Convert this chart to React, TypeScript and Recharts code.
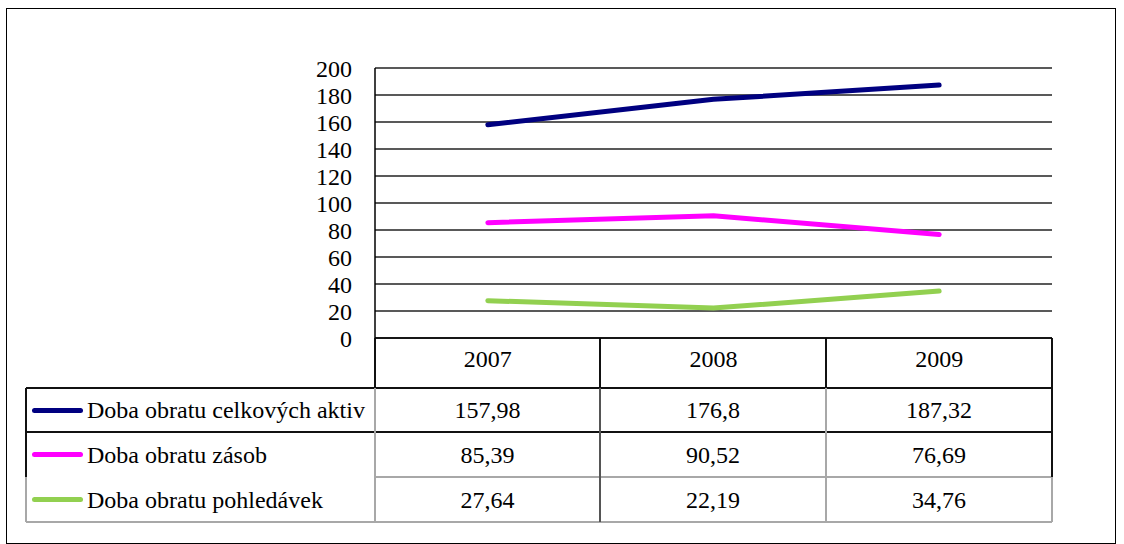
import { LineChart, Line, XAxis, YAxis, CartesianGrid } from "recharts";

const FONT = '"Liberation Serif", "DejaVu Serif", serif';
const FONT_SIZE = 24;

const years = ["2007", "2008", "2009"];
const aktiva = [157.98, 176.8, 187.32];
const zasoby = [85.39, 90.52, 76.69];
const pohledavky = [27.64, 22.19, 34.76];
const yTicks = [0, 20, 40, 60, 80, 100, 120, 140, 160, 180, 200];

const series = [
  { key: "aktiva", name: "Doba obratu celkových aktiv", color: "#000080", values: aktiva },
  { key: "zasoby", name: "Doba obratu zásob", color: "#FF00FF", values: zasoby },
  { key: "pohledavky", name: "Doba obratu pohledávek", color: "#92D050", values: pohledavky },
];

const data = years.map((year, i) => ({
  year,
  aktiva: aktiva[i],
  zasoby: zasoby[i],
  pohledavky: pohledavky[i],
}));

// layout (pixels on the page)
const W = 1124;
const H = 544;
const PLOT_LEFT = 375;
const PLOT_RIGHT = 1052;
const PLOT_TOP = 68;
const PLOT_BOTTOM = 338;
const Y_AXIS_W = 60;
const X_AXIS_H = 50;
const TABLE_LEFT = 26;
const colX = [PLOT_LEFT, 600, 826, PLOT_RIGHT];
const rowY = [PLOT_BOTTOM + X_AXIS_H, 432, 477, 522];

const DARK = "#111";
const GREY = "#a8a8a8";

function HLine({ x1, x2, y, color }: { x1: number; x2: number; y: number; color: string }) {
  return (
    <div
      style={{ position: "absolute", left: x1, top: y - 0.75, width: x2 - x1, height: 1.5, background: color }}
    />
  );
}

function VLine({ x, y1, y2, color }: { x: number; y1: number; y2: number; color: string }) {
  return (
    <div
      style={{ position: "absolute", left: x - 0.75, top: y1, width: 1.5, height: y2 - y1, background: color }}
    />
  );
}

const fmt = (v: number) => String(v).replace(".", ",");

const textStyle = {
  fontFamily: FONT,
  fontSize: FONT_SIZE,
  color: "#000",
  lineHeight: 1,
};

function DataTable() {
  const cells = [];
  series.forEach((s, r) => {
    const top = rowY[r];
    const h = rowY[r + 1] - rowY[r];
    cells.push(
      <div
        key={`legend-${s.key}`}
        style={{
          ...textStyle,
          position: "absolute",
          left: TABLE_LEFT + 6,
          top,
          height: h,
          display: "flex",
          alignItems: "center",
          whiteSpace: "nowrap",
        }}
      >
        <span
          style={{
            display: "inline-block",
            width: 51,
            height: 5,
            borderRadius: 3,
            background: s.color,
            marginRight: 4,
          }}
        />
        {s.name}
      </div>
    );
    s.values.forEach((v, c) => {
      cells.push(
        <div
          key={`${s.key}-${c}`}
          style={{
            ...textStyle,
            position: "absolute",
            left: colX[c],
            width: colX[c + 1] - colX[c],
            top,
            height: h,
            display: "flex",
            alignItems: "center",
            justifyContent: "center",
          }}
        >
          {fmt(v)}
        </div>
      );
    });
  });

  return (
    <>
      {/* header row borders */}
      <VLine x={colX[0]} y1={PLOT_BOTTOM} y2={rowY[0]} color={DARK} />
      <VLine x={colX[1]} y1={PLOT_BOTTOM} y2={rowY[0]} color={DARK} />
      <VLine x={colX[2]} y1={PLOT_BOTTOM} y2={rowY[0]} color={DARK} />
      <VLine x={colX[3]} y1={PLOT_BOTTOM} y2={rowY[0]} color={DARK} />
      {/* row separators */}
      <HLine x1={TABLE_LEFT} x2={PLOT_RIGHT} y={rowY[0]} color={DARK} />
      <HLine x1={TABLE_LEFT} x2={PLOT_RIGHT} y={rowY[1]} color={DARK} />
      <HLine x1={PLOT_LEFT} x2={PLOT_RIGHT} y={rowY[2]} color={GREY} />
      <HLine x1={TABLE_LEFT} x2={PLOT_RIGHT} y={rowY[3]} color={GREY} />
      {/* verticals in the data rows */}
      <VLine x={TABLE_LEFT} y1={rowY[0]} y2={rowY[2]} color={DARK} />
      <VLine x={TABLE_LEFT} y1={rowY[2]} y2={rowY[3]} color={GREY} />
      <VLine x={colX[0]} y1={rowY[0]} y2={rowY[3]} color={GREY} />
      <VLine x={colX[1]} y1={rowY[0]} y2={rowY[3]} color="#555" />
      <VLine x={colX[2]} y1={rowY[0]} y2={rowY[3]} color={GREY} />
      <VLine x={colX[3]} y1={rowY[0]} y2={rowY[2]} color={DARK} />
      <VLine x={colX[3]} y1={rowY[2]} y2={rowY[3]} color={GREY} />
      {cells}
    </>
  );
}

export default function App() {
  return (
    <div style={{ position: "absolute", left: 0, top: 0, width: W, height: H, background: "#fff" }}>
      {/* outer frame */}
      <div
        style={{
          position: "absolute",
          left: 6,
          top: 8,
          width: 1108,
          height: 534,
          border: "1.5px solid #000",
        }}
      />
      <DataTable />
      <div style={{ position: "absolute", left: 0, top: 0 }}>
        <LineChart
          width={W}
          height={H}
          data={data}
          margin={{
            top: PLOT_TOP,
            right: W - PLOT_RIGHT,
            left: PLOT_LEFT - Y_AXIS_W,
            bottom: H - PLOT_BOTTOM - X_AXIS_H,
          }}
        >
          <CartesianGrid yAxisId="left" vertical={false} stroke="#222" strokeWidth={1.5} />
          <XAxis
            dataKey="year"
            scale="band"
            height={X_AXIS_H}
            axisLine={{ stroke: "#000", strokeWidth: 1.5 }}
            tickLine={false}
            tickSize={0}
            tickMargin={12}
            tick={{ fill: "#000", fontSize: FONT_SIZE, fontFamily: FONT }}
          />
          <YAxis
            yAxisId="left"
            width={Y_AXIS_W}
            domain={[0, 200]}
            ticks={yTicks}
            interval={0}
            axisLine={{ stroke: "#000", strokeWidth: 1.5 }}
            tickLine={false}
            tickSize={0}
            tickMargin={23}
            tick={{ fill: "#000", fontSize: FONT_SIZE, fontFamily: FONT }}
          />
          <YAxis
            yAxisId="right"
            orientation="right"
            width={0}
            domain={[0, 200]}
            tick={false}
            tickLine={false}
            axisLine={{ stroke: GREY, strokeWidth: 1.5 }}
          />
          {series.map((s) => (
            <Line
              key={s.key}
              yAxisId="left"
              type="linear"
              dataKey={s.key}
              name={s.name}
              stroke={s.color}
              strokeWidth={5}
              strokeLinecap="round"
              dot={false}
              activeDot={false}
              isAnimationActive={false}
            />
          ))}
        </LineChart>
      </div>
    </div>
  );
}
